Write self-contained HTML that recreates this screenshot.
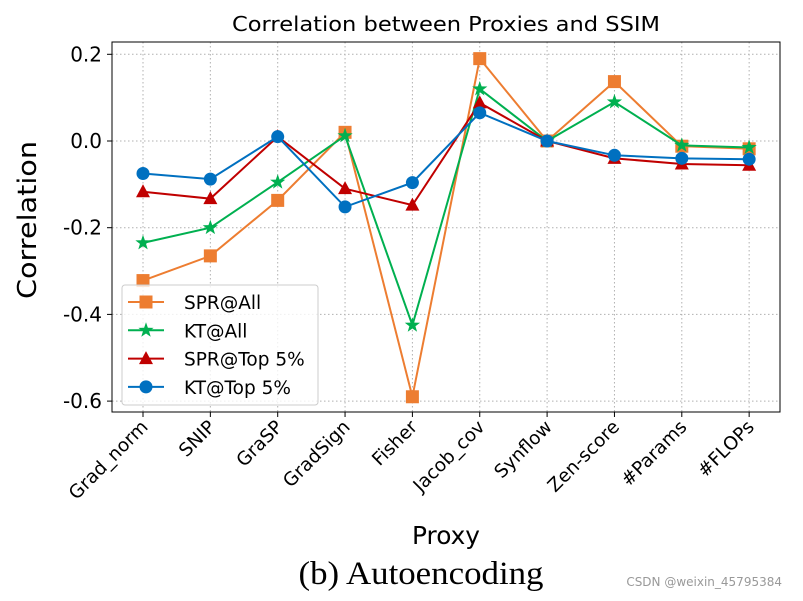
<!DOCTYPE html>
<html><head><meta charset="utf-8"><style>
body{margin:0;background:#fff;width:803px;height:596px;overflow:hidden}
svg text{font-family:"DejaVu Sans","Liberation Sans",sans-serif}
</style></head><body>
<svg id="c" width="803" height="596" xmlns="http://www.w3.org/2000/svg"></svg>
<script>
const categories=["Grad_norm","SNIP","GraSP","GradSign","Fisher","Jacob_cov","Synflow","Zen-score","#Params","#FLOPs"];
const sprAll=[-0.322,-0.265,-0.137,0.02,-0.59,0.19,0.0,0.137,-0.012,-0.018];
const ktAll=[-0.235,-0.2,-0.095,0.012,-0.425,0.12,0.0,0.09,-0.01,-0.015];
const sprTop=[-0.117,-0.133,0.01,-0.11,-0.148,0.088,0.0,-0.04,-0.053,-0.056];
const ktTop=[-0.075,-0.088,0.01,-0.152,-0.096,0.065,0.0,-0.033,-0.04,-0.042];
const yTicks=[0.2,0.0,-0.2,-0.4,-0.6];
const yTickLabels=["0.2","0.0","-0.2","-0.4","-0.6"];
const NS="http://www.w3.org/2000/svg",svg=document.getElementById('c');
const L=112,R=780,T=42,B=412;
const x=i=>143+i*67.35;
const y=v=>141-v*433.5;
function mk(t,a,p){const e=document.createElementNS(NS,t);for(const k in a)e.setAttribute(k,a[k]);(p||svg).appendChild(e);return e;}
yTicks.forEach((v,i)=>{
 const g=mk('line',{x1:L,x2:R,y1:y(v),y2:y(v),stroke:'#b0b0b0','stroke-dasharray':'1.5,2.5','stroke-width':1});
 
 
 mk('line',{x1:L-5,x2:L,y1:y(v),y2:y(v),stroke:'#000'});
 const t=mk('text',{x:L-10,y:y(v)+7,'text-anchor':'end','font-size':20});t.textContent=yTickLabels[i];
 
 
});
categories.forEach((c,i)=>{
 const g=mk('line',{x1:x(i),x2:x(i),y1:T,y2:B,stroke:'#b0b0b0','stroke-dasharray':'1.5,2.5','stroke-width':1});
 
 
 mk('line',{x1:x(i),x2:x(i),y1:B,y2:B+5,stroke:'#000'});
 const t=mk('text',{x:0,y:0,'text-anchor':'end','font-size':18.5,transform:`translate(${x(i)+6},${B+16}) rotate(-45)`});t.textContent=c;
 
 
});
const frame=mk('rect',{x:L,y:T,width:R-L,height:B-T,fill:'none',stroke:'#000','stroke-width':1});


function marker(kind,cx,cy,col,p){
 if(kind==='s')return mk('rect',{x:cx-6.5,y:cy-6.5,width:13,height:13,fill:col},p);
 if(kind==='o')return mk('circle',{cx,cy,r:6.5,fill:col},p);
 if(kind==='^')return mk('polygon',{points:`${cx},${cy-7.5} ${cx+7},${cy+5.5} ${cx-7},${cy+5.5}`,fill:col},p);
 let pts=[];for(let k=0;k<10;k++){const r=k%2?3.2:8,a=-Math.PI/2+k*Math.PI/5;pts.push((cx+r*Math.cos(a))+','+(cy+r*Math.sin(a)));}
 return mk('polygon',{points:pts.join(' '),fill:col},p);
}
const series=[[sprAll,'#ED7D31','s','SPR@All','series-spr-all'],[ktAll,'#00B050','*','KT@All','series-kt-all'],[sprTop,'#C00000','^','SPR@Top 5%','series-spr-top5'],[ktTop,'#0070C0','o','KT@Top 5%','series-kt-top5']];
series.forEach(([d,col,m,lab,nm])=>{
 const g=mk('g',{});
 
 
 mk('polyline',{points:d.map((v,i)=>x(i)+','+y(v)).join(' '),fill:'none',stroke:col,'stroke-width':2},g);
 d.forEach((v,i)=>{const e=marker(m,x(i),y(v),col,g);
  
  });
});
const lg=mk('g',{});


mk('rect',{x:122,y:285,width:196,height:120,rx:3,fill:'#fff','fill-opacity':0.8,stroke:'#ccc'},lg);
series.forEach(([d,col,m,lab],k)=>{
 const yy=302+k*28.3;
 const e=mk('g',{},lg);
 
 
 mk('line',{x1:128,x2:164,y1:yy,y2:yy,stroke:col,'stroke-width':2},e);
 marker(m,146,yy,col,e);
 const t=mk('text',{x:184,y:yy+7,'font-size':18.5},e);t.textContent=lab;
});
function txt(s,a,nm){const t=mk('text',a);t.textContent=s;return t;}
txt('Correlation between Proxies and SSIM',{x:446,y:31,'text-anchor':'middle','font-size':20,textLength:428,lengthAdjust:'spacingAndGlyphs'},'chart-title');
txt('Correlation',{x:0,y:0,'text-anchor':'middle','font-size':26,textLength:158,lengthAdjust:'spacingAndGlyphs',transform:'translate(36,220) rotate(-90)'},'y-axis-title');
txt('Proxy',{x:446,y:544,'text-anchor':'middle','font-size':25,textLength:68,lengthAdjust:'spacingAndGlyphs'},'x-axis-title');
const cap=txt('(b) Autoencoding',{x:421,y:584,'text-anchor':'middle','font-size':33,textLength:245,lengthAdjust:'spacingAndGlyphs'},'caption');
cap.style.fontFamily='"Liberation Serif",serif';
txt('CSDN @weixin_45795384',{x:782,y:586,'text-anchor':'end','font-size':12,fill:'#999'},'watermark');
</script>
</body></html>
